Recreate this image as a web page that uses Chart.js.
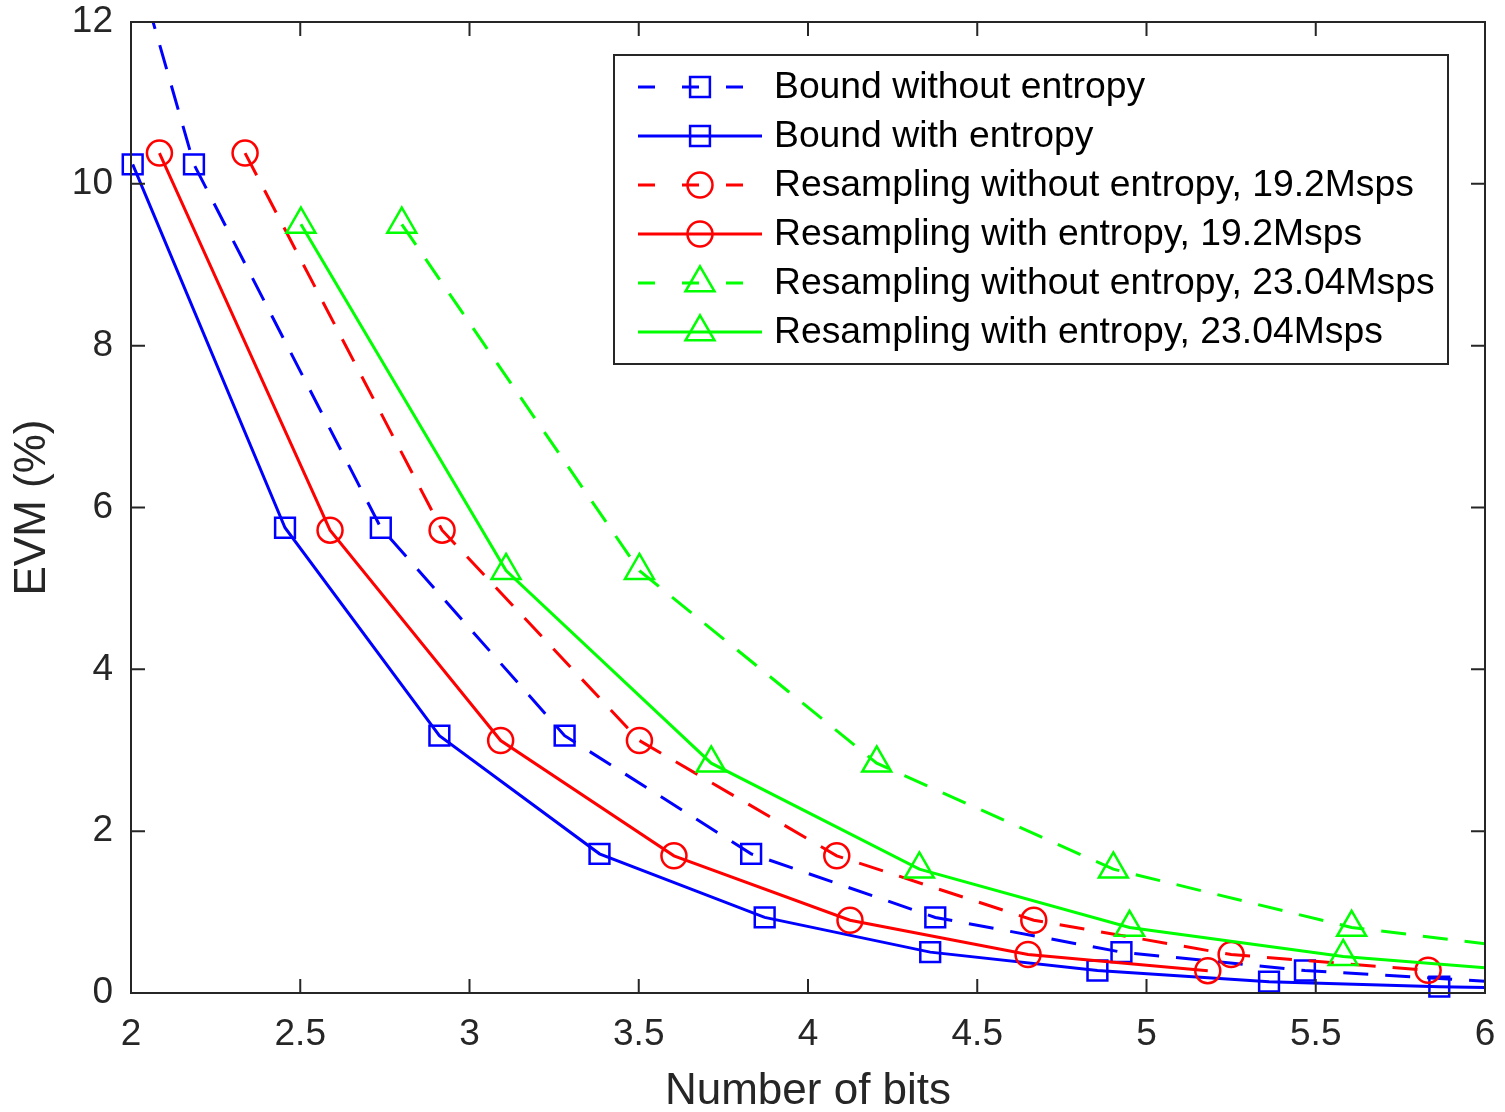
<!DOCTYPE html>
<html>
<head>
<meta charset="utf-8">
<title>EVM vs number of bits</title>
<script src="https://cdn.jsdelivr.net/npm/chart.js"></script>
<style>
  html, body { margin: 0; padding: 0; background: #fff; }
  #wrap { width: 1505px; height: 1112px; }
</style>
</head>
<body>
<div id="wrap"><canvas id="evm" width="1505" height="1112"></canvas></div>
<script>
// values: number of bits (x) and EVM in % (y)
// points outside 2..6 only carry the line to the axis edge, no marker is shown for them
const boundWithoutX = [1.64, 2.186, 2.738, 3.281, 3.832, 4.376, 4.926, 5.468, 6.02];
const boundWithoutY = [18.2, 10.24, 5.75, 3.18, 1.72, 0.934, 0.505, 0.278, 0.14];
const boundWithX = [2.005, 2.455, 2.911, 3.384, 3.872, 4.361, 4.855, 5.362, 5.865, 6.37];
const boundWithY = [10.24, 5.75, 3.18, 1.72, 0.934, 0.505, 0.278, 0.14, 0.078, 0.04];
const res192WithoutX = [2.337, 2.919, 3.502, 4.085, 4.667, 5.25, 5.832];
const res192WithoutY = [10.38, 5.72, 3.12, 1.695, 0.90, 0.475, 0.28];
const res192WithX = [2.084, 2.588, 3.092, 3.604, 4.124, 4.65, 5.181];
const res192WithY = [10.38, 5.72, 3.12, 1.695, 0.90, 0.475, 0.276];
const res2304WithoutX = [2.80, 3.502, 4.203, 4.902, 5.606, 6.31];
const res2304WithoutY = [9.50, 5.22, 2.84, 1.53, 0.81, 0.45];
const res2304WithX = [2.502, 3.108, 3.714, 4.329, 4.95, 5.581, 6.21];
const res2304WithY = [9.50, 5.22, 2.84, 1.53, 0.81, 0.45, 0.245];

const seriesLabels = [
    'Bound without entropy',
    'Bound with entropy',
    'Resampling without entropy, 19.2Msps',
    'Resampling with entropy, 19.2Msps',
    'Resampling without entropy, 23.04Msps',
    'Resampling with entropy, 23.04Msps'
];

// axis ranges and tick steps
const xMin = 2, xMax = 6, xStep = 0.5;
const yMin = 0, yMax = 12, yStep = 2;

const FONT = "'Liberation Sans', Arial, Helvetica, sans-serif";
const AXIS_COLOR = '#262626';
const TICK_LEN = 14;
const DASH = [25, 17];

function toPoints(xs, ys) {
    return xs.map((x, i) => ({ x: x, y: ys[i] }));
}

function makeSeries(label, xs, ys, color, dashed, style, radius, idx) {
    return {
        label: label,
        data: toPoints(xs, ys),
        borderColor: color,
        backgroundColor: color,
        borderWidth: 3,
        borderDash: dashed ? DASH : [],
        tension: 0,
        pointStyle: style,
        pointRadius: ctx => {
            const v = ctx.raw;
            return (v && v.x >= xMin && v.x <= xMax) ? radius : 0;
        },
        pointHoverRadius: 0,
        pointBorderColor: color,
        pointBackgroundColor: 'rgba(0,0,0,0)',
        pointBorderWidth: 2.5,
        clip: { left: 20, top: 0, right: 0, bottom: 20 },
        order: 5 - idx,
        _dashed: dashed,
        _radius: radius
    };
}

const datasets = [
    makeSeries(seriesLabels[0], boundWithoutX, boundWithoutY, '#0000ff', true, 'rect', 14, 0),
    makeSeries(seriesLabels[1], boundWithX, boundWithY, '#0000ff', false, 'rect', 14, 1),
    makeSeries(seriesLabels[2], res192WithoutX, res192WithoutY, '#ff0000', true, 'circle', 12.5, 2),
    makeSeries(seriesLabels[3], res192WithX, res192WithY, '#ff0000', false, 'circle', 12.5, 3),
    makeSeries(seriesLabels[4], res2304WithoutX, res2304WithoutY, '#00ff00', true, 'triangle', 16.7, 4),
    makeSeries(seriesLabels[5], res2304WithX, res2304WithY, '#00ff00', false, 'triangle', 16.7, 5)
];

// draws a hollow marker with the same geometry chart.js uses
function drawMarker(ctx, style, r, x, y) {
    ctx.beginPath();
    if (style === 'rect') {
        const s = Math.SQRT1_2 * r;
        ctx.rect(x - s, y - s, 2 * s, 2 * s);
    } else if (style === 'circle') {
        ctx.arc(x, y, r, 0, Math.PI * 2);
    } else {
        let a = 0;
        ctx.moveTo(x + Math.sin(a) * r, y - Math.cos(a) * r);
        a += Math.PI * 2 / 3;
        ctx.lineTo(x + Math.sin(a) * r, y - Math.cos(a) * r);
        a += Math.PI * 2 / 3;
        ctx.lineTo(x + Math.sin(a) * r, y - Math.cos(a) * r);
        ctx.closePath();
    }
    ctx.stroke();
}

// matlab style box with inward ticks on all four sides
const axesBox = {
    id: 'axesBox',
    afterDatasetsDraw(chart) {
        const { ctx, chartArea: a } = chart;
        const xs = chart.scales.x, ys = chart.scales.y;
        ctx.save();
        ctx.strokeStyle = AXIS_COLOR;
        ctx.lineWidth = 2;
        ctx.setLineDash([]);
        ctx.beginPath();
        xs.ticks.forEach(t => {
            const px = xs.getPixelForValue(t.value);
            ctx.moveTo(px, a.bottom); ctx.lineTo(px, a.bottom - TICK_LEN);
            ctx.moveTo(px, a.top); ctx.lineTo(px, a.top + TICK_LEN);
        });
        ys.ticks.forEach(t => {
            const py = ys.getPixelForValue(t.value);
            ctx.moveTo(a.left, py); ctx.lineTo(a.left + TICK_LEN, py);
            ctx.moveTo(a.right, py); ctx.lineTo(a.right - TICK_LEN, py);
        });
        ctx.stroke();
        ctx.strokeRect(a.left, a.top, a.right - a.left, a.bottom - a.top);
        ctx.restore();
    }
};

// legend box in the upper right: line sample + marker + text
const boxLegend = {
    id: 'boxLegend',
    afterDraw(chart) {
        const ctx = chart.ctx;
        const box = { left: 614, top: 55, right: 1448, bottom: 364 };
        const rowH = 49, firstRow = 87;
        ctx.save();
        ctx.fillStyle = '#ffffff';
        ctx.fillRect(box.left, box.top, box.right - box.left, box.bottom - box.top);
        ctx.strokeStyle = AXIS_COLOR;
        ctx.lineWidth = 2;
        ctx.strokeRect(box.left, box.top, box.right - box.left, box.bottom - box.top);
        chart.data.datasets.forEach((ds, i) => {
            const y = firstRow + i * rowH;
            ctx.strokeStyle = ds.borderColor;
            ctx.lineWidth = 3;
            ctx.setLineDash(ds._dashed ? [17, 27] : []);
            ctx.beginPath();
            ctx.moveTo(638, y);
            ctx.lineTo(762, y);
            ctx.stroke();
            ctx.setLineDash([]);
            ctx.lineWidth = ds.pointBorderWidth;
            drawMarker(ctx, ds.pointStyle, ds._radius, 700, y);
            ctx.fillStyle = '#000000';
            ctx.font = '37.3px ' + FONT;
            ctx.textAlign = 'left';
            ctx.textBaseline = 'middle';
            ctx.fillText(ds.label, 774, y + 1);
        });
        ctx.restore();
    }
};

new Chart(document.getElementById('evm').getContext('2d'), {
    type: 'line',
    data: { datasets: datasets },
    options: {
        responsive: false,
        animation: false,
        devicePixelRatio: 1,
        layout: { padding: { top: 22, right: 20, left: 0, bottom: 0 } },
        plugins: { legend: { display: false }, tooltip: { enabled: false } },
        scales: {
            x: {
                type: 'linear',
                min: xMin, max: xMax,
                grid: { display: false, drawTicks: false },
                border: { display: false },
                ticks: {
                    stepSize: xStep, padding: 20, color: AXIS_COLOR,
                    font: { family: FONT, size: 37 },
                    callback: v => String(v)
                },
                title: {
                    display: true, text: 'Number of bits', color: AXIS_COLOR,
                    font: { family: FONT, size: 44, lineHeight: 0.9 }, padding: { top: 0, bottom: 0 }
                },
                afterFit: s => { s.height = 119; s.paddingLeft = 0; s.paddingRight = 0; }
            },
            y: {
                min: yMin, max: yMax,
                grid: { display: false, drawTicks: false },
                border: { display: false },
                ticks: {
                    stepSize: yStep, padding: 18, color: AXIS_COLOR,
                    font: { family: FONT, size: 37 },
                    callback: v => String(v)
                },
                title: {
                    display: true, text: 'EVM (%)', color: AXIS_COLOR,
                    font: { family: FONT, size: 44, lineHeight: 1 }, padding: { top: 11, bottom: 0 }
                },
                afterFit: s => { s.width = 131; s.paddingTop = 0; s.paddingBottom = 0; }
            }
        }
    },
    plugins: [axesBox, boxLegend]
});
</script>
</body>
</html>
